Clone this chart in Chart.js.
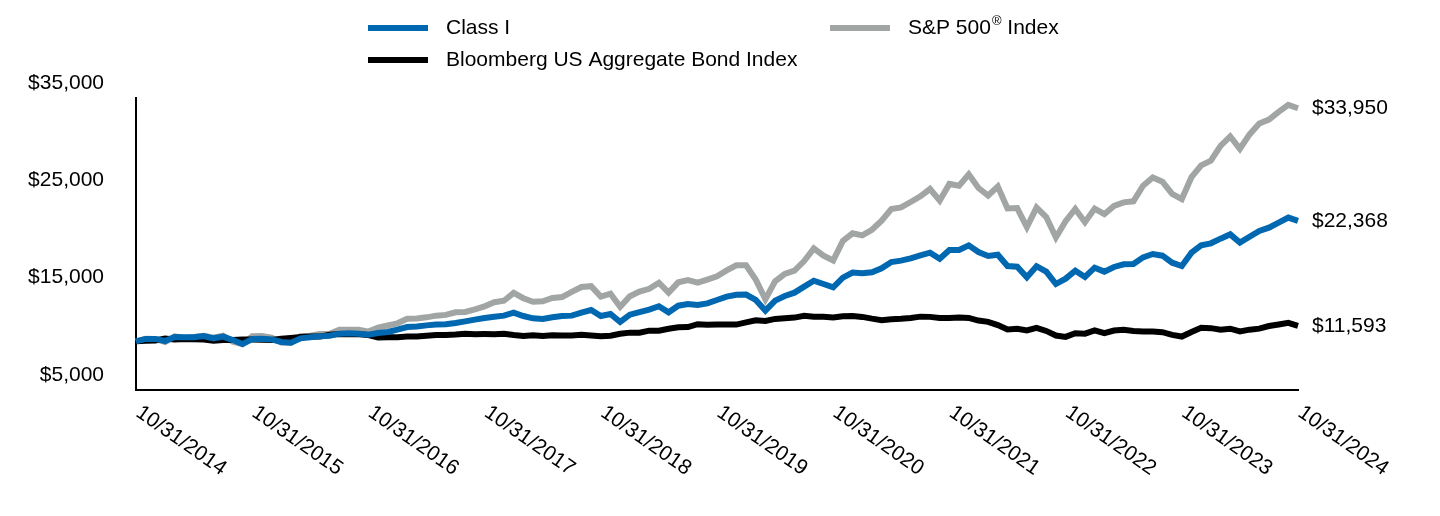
<!DOCTYPE html>
<html>
<head>
<meta charset="utf-8">
<script src="https://cdn.jsdelivr.net/npm/chart.js@4.4.1/dist/chart.umd.min.js"></script>
<style>
html,body{margin:0;padding:0;background:#fff;}
canvas{display:block;}
</style>
</head>
<body>
<canvas id="c" width="1440" height="516"></canvas>
<script>
// ---- data ----
const tickLabels = ["10/31/2014","10/31/2015","10/31/2016","10/31/2017","10/31/2018","10/31/2019","10/31/2020","10/31/2021","10/31/2022","10/31/2023","10/31/2024"];
const seriesNames = ["Class I", "S&P 500® Index", "Bloomberg US Aggregate Bond Index"];
const yTickValues = [5000, 15000, 25000, 35000];

const classI = [10000,10250,10250,10030,10440,10410,10410,10550,10310,10480,10130,9720,10240,
 10270,10200,9930,9860,10310,10410,10510,10580,10790,10820,10790,10680,
 10850,10960,11200,11470,11530,11640,11720,11750,11880,12050,12230,12400,
 12530,12640,12950,12600,12360,12300,12470,12600,12640,12950,13220,12600,
 12810,11990,12740,13010,13250,13600,12980,13660,13840,13730,13900,14250,
 14590,14780,14800,14250,13150,14180,14660,15000,15620,16230,15890,15550,
 16540,17060,16990,17090,17500,18150,18290,18530,18840,19110,18490,19380,
 19380,19860,19180,18770,18900,17740,17670,16580,17720,17160,15890,16440,
 17260,16610,17570,17160,17640,17910,17950,18630,18970,18800,18080,17740,
 19110,19860,20070,20550,20990,20140,20750,21340,21680,22190,22710,22368];

const sp500 = [10000,10269,10243,9936,10507,10341,10440,10575,10370,10588,9949,9703,10522,
 10554,10387,9872,9859,10527,10568,10758,10786,11184,11200,11202,10998,
 11405,11631,11852,12322,12337,12464,12640,12718,12980,13020,13288,13598,
 14015,14171,14983,14430,14064,14117,14457,14547,15088,15580,15669,14597,
 14895,13550,14635,15105,15398,16022,15004,16062,16293,16036,16336,16690,
 17296,17818,17811,16345,14326,16163,16932,17269,18243,19555,18812,18312,
 20317,21097,20884,21460,22400,23596,23761,24315,24894,25651,24458,26172,
 25991,27156,25752,24982,25909,23650,23693,21738,23742,22773,20676,22351,
 23600,22240,23637,23060,23906,24279,24384,25996,26830,26404,25144,24616,
 26863,28083,28555,30080,31048,29781,31258,32380,32775,33571,34289,33950];

const bond = [10000,10071,10080,10292,10195,10242,10205,10181,10070,10140,10126,10195,10197,
 10170,10138,10278,10351,10446,10486,10489,10678,10745,10733,10727,10645,
 10393,10408,10429,10499,10494,10575,10656,10646,10692,10788,10736,10742,
 10728,10777,10653,10552,10620,10541,10616,10603,10605,10673,10605,10521,
 10584,10779,10893,10887,11096,11099,11297,11439,11464,11761,11699,11734,
 11728,11720,11945,12160,12088,12303,12361,12439,12624,12522,12516,12460,
 12582,12600,12509,12329,12175,12271,12312,12398,12537,12513,12404,12400,
 12437,12405,12138,12002,11668,11226,11298,11121,11392,11070,10592,10454,
 10839,10790,11122,10834,11109,11177,11055,11015,11007,10937,10659,10491,
 10966,11386,11355,11195,11298,11012,11199,11306,11570,11736,11893,11593];

// month-end category labels
const categories = [];
for (let k = 0; k < classI.length; k++) {
  const d = new Date(2014, 10 + k, 0);
  categories.push((d.getMonth() + 1) + "/" + d.getDate() + "/" + d.getFullYear());
}

const FONT = '"Liberation Sans", Arial, Helvetica, sans-serif';
const COLORS = { classI: "#0067b1", sp: "#a1a5a4", bond: "#000000" };
const money = v => "$" + Number(v).toLocaleString("en-US");

const overlay = {
  id: "overlay",
  afterDraw(chart) {
    const { ctx, chartArea, scales } = chart;
    const x = scales.x, y = scales.y;
    ctx.save();
    ctx.fillStyle = "#000";
    ctx.font = "21px " + FONT;

    // rotated x tick labels
    tickLabels.forEach(lbl => {
      const idx = categories.indexOf(lbl);
      if (idx < 0) return;
      const px = x.getPixelForValue(idx);
      ctx.save();
      ctx.translate(px + 8, chartArea.bottom + 12);
      ctx.rotate(35 * Math.PI / 180);
      ctx.textAlign = "left";
      ctx.textBaseline = "top";
      ctx.fillText(lbl, 0, 0);
      ctx.restore();
    });

    // end value labels
    ctx.textAlign = "left";
    ctx.textBaseline = "middle";
    chart.data.datasets.forEach(ds => {
      const v = ds.data[ds.data.length - 1];
      ctx.fillText(money(v), chartArea.right + 14, y.getPixelForValue(v));
    });

    // legend
    const items = [
      { ds: 0, lx: 368, ly: 28 },
      { ds: 1, lx: 830, ly: 28 },
      { ds: 2, lx: 368, ly: 60 }
    ];
    items.forEach(it => {
      const ds = chart.data.datasets[it.ds];
      ctx.strokeStyle = ds.borderColor;
      ctx.lineWidth = 6;
      ctx.beginPath();
      ctx.moveTo(it.lx, it.ly);
      ctx.lineTo(it.lx + 60, it.ly);
      ctx.stroke();
      ctx.fillStyle = "#000";
      const tx = it.lx + 78;
      const label = ds.label;
      const rIdx = label.indexOf("®");
      ctx.font = "21px " + FONT;
      ctx.textBaseline = "middle";
      if (rIdx >= 0) {
        const a = label.slice(0, rIdx), b = label.slice(rIdx + 1);
        ctx.fillText(a, tx, it.ly);
        let cx = tx + ctx.measureText(a).width + 1;
        ctx.font = "13px " + FONT;
        ctx.fillText("®", cx, it.ly - 7);
        cx += ctx.measureText("®").width;
        ctx.font = "21px " + FONT;
        ctx.fillText(b, cx, it.ly);
      } else {
        ctx.fillText(label, tx, it.ly);
      }
    });
    ctx.restore();
  }
};

new Chart(document.getElementById("c"), {
  type: "line",
  data: {
    labels: categories,
    datasets: [
      { label: seriesNames[0], data: classI, borderColor: COLORS.classI, order: 0 },
      { label: seriesNames[1], data: sp500, borderColor: COLORS.sp, order: 2 },
      { label: seriesNames[2], data: bond, borderColor: COLORS.bond, order: 1 }
    ].map(d => Object.assign({ borderWidth: 6, pointRadius: 0, tension: 0, fill: false, backgroundColor: d.borderColor }, d))
  },
  options: {
    responsive: false,
    animation: false,
    events: [],
    devicePixelRatio: 1,
    layout: { padding: { left: 0, top: 98, right: 142, bottom: 126 } },
    plugins: { legend: { display: false }, tooltip: { enabled: false }, title: { display: false } },
    scales: {
      x: {
        type: "category",
        offset: false,
        grid: { display: false, drawTicks: false },
        border: { display: true, color: "#000", width: 2 },
        ticks: { display: false },
        afterFit: s => { s.height = 0; }
      },
      y: {
        min: 5000, max: 35000,
        grid: { display: false, drawTicks: false },
        border: { display: true, color: "#000", width: 2 },
        afterBuildTicks: s => { s.ticks = yTickValues.map(v => ({ value: v })); },
        ticks: {
          color: "#000",
          font: { size: 21, family: FONT },
          padding: 32,
          labelOffset: -15,
          callback: v => money(v)
        },
        afterFit: s => { s.width = 136; }
      }
    }
  },
  plugins: [overlay]
});
</script>
</body>
</html>
